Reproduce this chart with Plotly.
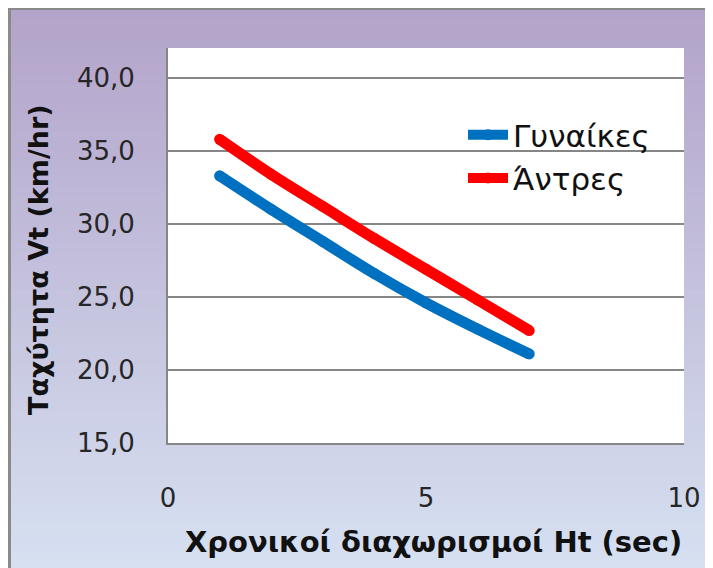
import plotly.graph_objects as go

# ---- data ----
headway_sec = [1, 2, 3, 4, 5, 6, 7]
speed_women = [33.3, 31.0, 28.8, 26.6, 24.6, 22.8, 21.1]
speed_men = [35.8, 33.4, 31.2, 29.0, 26.9, 24.8, 22.7]
series_names = ["Γυναίκες", "Άντρες"]
y_ticks = [15, 20, 25, 30, 35, 40]
x_ticks = [0, 5, 10]

OFF = 8                       # page offset of the figure (body margin)
W, H = 713 - OFF, 568 - OFF
L, R, T, B = 168, 684, 48, 443   # plot area in page pixels


def px_x(p):
    return (p - L) / (R - L)


def px_y(p):
    return (B - p) / (B - T)


def mix(c1, c2, t):
    return "rgb(%d,%d,%d)" % tuple(round(a + (b - a) * t) for a, b in zip(c1, c2))


shapes = []
# gray frame lines
shapes.append(dict(type="rect", xref="paper", yref="paper", layer="below",
                   x0=px_x(6), x1=px_x(730), y0=px_y(6), y1=px_y(590),
                   fillcolor="#8a8a8a", line=dict(width=0)))
# gradient inner background
top_c, bot_c = (179, 164, 202), (214, 224, 241)
n = 60
y_start, y_end = 10, 570
for i in range(n):
    a = y_start + (y_end - y_start) * i / n
    b = y_start + (y_end - y_start) * (i + 1) / n
    shapes.append(dict(type="rect", xref="paper", yref="paper", layer="below",
                       x0=px_x(11), x1=px_x(730), y0=px_y(a), y1=px_y(b + 0.6),
                       fillcolor=mix(top_c, bot_c, i / (n - 1)), line=dict(width=0)))
# white plot area
shapes.append(dict(type="rect", xref="x domain", yref="y domain", layer="below",
                   x0=0, x1=1, y0=0, y1=1, fillcolor="white", line=dict(width=0)))

fig = go.Figure()
fig.add_trace(go.Scatter(x=headway_sec, y=speed_women, name=series_names[0],
                         mode="lines+markers", line=dict(color="#0070c0", width=11, shape="spline"),
                         marker=dict(size=11, color="#0070c0")))
fig.add_trace(go.Scatter(x=headway_sec, y=speed_men, name=series_names[1],
                         mode="lines+markers", line=dict(color="#ff0000", width=11, shape="spline"),
                         marker=dict(size=11, color="#ff0000")))

tick_font = dict(family="DejaVu Sans", size=26, color="#262626")

fig.update_layout(
    width=W, height=H,
    margin=dict(l=L - OFF, r=W - (R - OFF), t=T - OFF, b=H - (B - OFF), pad=0),
    paper_bgcolor="#c6cae5",
    plot_bgcolor="rgba(0,0,0,0)",
    separators=", ",
    showlegend=True,
    legend=dict(x=px_x(463), y=px_y(108), xanchor="left", yanchor="top",
                bgcolor="rgba(0,0,0,0)", font=dict(family="DejaVu Sans", size=31, color="#111"),
                itemwidth=40, tracegroupgap=0),
    shapes=shapes,
    annotations=[
        dict(text="<b>Χρονικοί διαχωρισμοί Ht (sec)</b>", xref="paper", yref="paper",
             x=px_x(433), y=px_y(542), showarrow=False,
             font=dict(family="DejaVu Sans", size=29, color="#111111"),
             xanchor="center", yanchor="middle"),
        dict(text="<b>Ταχύτητα Vt (km/hr)</b>", xref="paper", yref="paper",
             x=px_x(38), y=px_y(260), showarrow=False, textangle=-90,
             font=dict(family="DejaVu Sans", size=27, color="#111111"),
             xanchor="center", yanchor="middle"),
    ],
)
fig.update_xaxes(range=[0, 10], tickvals=x_ticks, ticktext=[str(v) for v in x_ticks],
                 showgrid=False, zeroline=False, showline=True, linecolor="#868686", linewidth=2,
                 ticks="", ticklabelstandoff=31, tickfont=tick_font)
fig.update_yaxes(range=[15, 42.05], tickvals=y_ticks, tickformat=".1f",
                 showgrid=True, gridcolor="#868686", gridwidth=2, zeroline=False,
                 showline=True, linecolor="#868686", linewidth=2,
                 ticks="", ticklabelstandoff=26, tickfont=tick_font)

fig.write_html("out.html")
